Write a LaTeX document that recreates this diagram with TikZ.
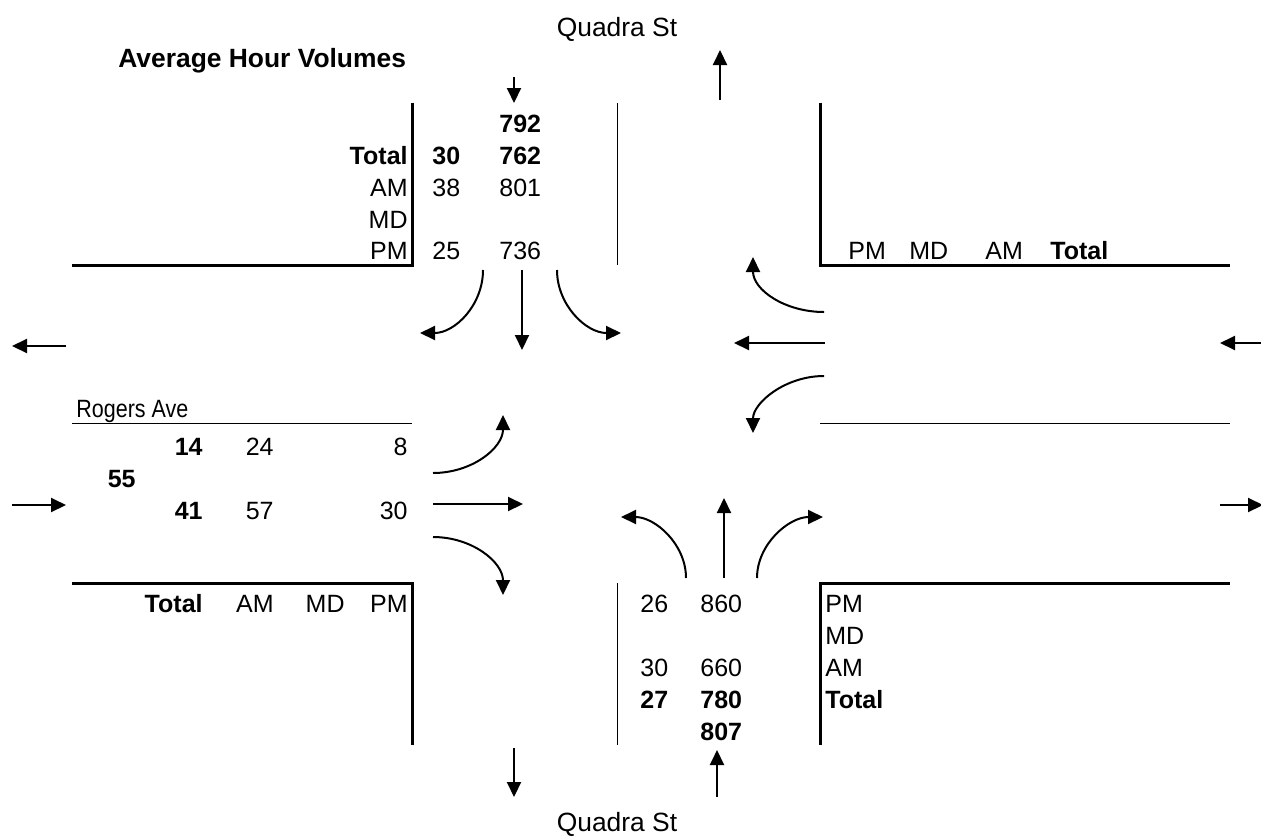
\documentclass[tikz,border=0pt]{standalone}
\usepackage{fontspec}
\setmainfont{Liberation Sans}
\newfontfamily\narrowfont{Liberation Sans}[FakeStretch=0.86]
\usetikzlibrary{arrows.meta}

\begin{document}
\begin{tikzpicture}[
    x=0.5pt, y=-0.5pt,
    font=\fontsize{12.5}{15}\selectfont,
    txt/.style={inner sep=0pt, anchor=base},
    txtl/.style={txt, anchor=base west},
    txtr/.style={txt, anchor=base east},
    bold/.style={font=\fontsize{12.5}{15}\selectfont\bfseries},
    curbline/.style={line width=1.5pt},
    laneline/.style={line width=0.5pt},
    move/.style={-{Triangle[length=7.5pt, width=7pt]}, line width=1pt}
  ]
    \useasboundingbox (0,0) rectangle (1261,835);

    % street names and title
    \node[txt, font=\fontsize{13.2}{16}\selectfont] (north) at (617,36) {Quadra St};
    \node[txt, font=\fontsize{13.2}{16}\selectfont] (south) at (617,831) {Quadra St};
    \node[txtl, font=\narrowfont\fontsize{12.5}{15}\selectfont] (west) at (76,417) {Rogers Ave};
    \node[txtl, font=\fontsize{13.2}{16}\selectfont\bfseries] (title) at (118,67) {Average Hour Volumes};

    % curbs and lane lines
    \draw[curbline] (412,103) -- (412,265) -- (72,265);
    \draw[curbline] (820,103) -- (820,265) -- (1230,265);
    \draw[curbline] (72,583) -- (412,583) -- (412,745);
    \draw[curbline] (820,745) -- (820,583) -- (1230,583);
    \draw[laneline] (617,103) -- (617,265);
    \draw[laneline] (617,583) -- (617,745);
    \draw[laneline] (72,423) -- (412,423);
    \draw[laneline] (820,423) -- (1230,423);

    % north leg (southbound)
    \node[txtl, bold] (nT) at (499,132) {792};
    \node[txtr, bold] (nlTot) at (408,164) {Total};
    \node[txtl, bold] (nLTot) at (432,164) {30};
    \node[txtl, bold] (nTTot) at (499,164) {762};
    \node[txtr] (nlAM) at (408,196) {AM};
    \node[txtl] (nLAM) at (432,196) {38};
    \node[txtl] (nTAM) at (499,196) {801};
    \node[txtr] (nlMD) at (408,228) {MD};
    \node[txtr] (nlPM) at (408,259) {PM};
    \node[txtl] (nLPM) at (432,259) {25};
    \node[txtl] (nTPM) at (499,259) {736};

    % east leg (westbound)
    \node[txtl] (elPM) at (848,259) {PM};
    \node[txtl] (elMD) at (909,259) {MD};
    \node[txtl] (elAM) at (985,259) {AM};
    \node[txtl, bold] (elTot) at (1050,259) {Total};

    % west leg (eastbound)
    \node[txtr, bold] (wLTot) at (203,455) {14};
    \node[txtr] (wLAM) at (274,455) {24};
    \node[txtr] (wLPM) at (408,455) {8};
    \node[txtr, bold] (wT) at (136,487) {55};
    \node[txtr, bold] (wRTot) at (203,519) {41};
    \node[txtr] (wRAM) at (274,519) {57};
    \node[txtr] (wRPM) at (408,519) {30};
    \node[txtr, bold] (wlTot) at (203,612) {Total};
    \node[txtr] (wlAM) at (274,612) {AM};
    \node[txtr] (wlMD) at (345,612) {MD};
    \node[txtr] (wlPM) at (408,612) {PM};

    % south leg (northbound)
    \node[txtl] (sLPM) at (640,612) {26};
    \node[txtl] (sTPM) at (700,612) {860};
    \node[txtl] (slPM) at (825,612) {PM};
    \node[txtl] (slMD) at (825,644) {MD};
    \node[txtl] (sLAM) at (640,676) {30};
    \node[txtl] (sTAM) at (700,676) {660};
    \node[txtl] (slAM) at (825,676) {AM};
    \node[txtl, bold] (sLTot) at (640,708) {27};
    \node[txtl, bold] (sTTot) at (700,708) {780};
    \node[txtl, bold] (slTot) at (825,708) {Total};
    \node[txtl, bold] (sT) at (700,740) {807};

    % approach and departure arrows
    \draw[move] (514,77) -- (514,103);
    \draw[move] (720,100) -- (720,50);
    \draw[move] (66,346) -- (12,346);
    \draw[move] (12,505) -- (66,505);
    \draw[move] (1261,343) -- (1220,343);
    \draw[move] (1220,505) -- (1263,505);
    \draw[move] (514,748) -- (514,797);
    \draw[move] (717,797) -- (717,750);

    % turning movements
    \draw[move] (483,270) .. controls (483,305) and (455,333) .. (420,333);
    \draw[move] (522,270) -- (522,350);
    \draw[move] (557,270) .. controls (557,305) and (586,333) .. (621,333);

    \draw[move] (824,312) .. controls (785,312) and (753,290) .. (753,257);
    \draw[move] (825,343) -- (734,343);
    \draw[move] (824,376) .. controls (785,376) and (753,403) .. (753,433);

    \draw[move] (433,473) .. controls (472,473) and (503,448) .. (503,415);
    \draw[move] (433,504) -- (523,504);
    \draw[move] (433,537) .. controls (472,537) and (503,562) .. (503,595);

    \draw[move] (686,578) .. controls (686,544) and (655,517) .. (621,517);
    \draw[move] (724,578) -- (724,498);
    \draw[move] (757,578) .. controls (757,544) and (789,517) .. (823,517);

  \end{tikzpicture}
\end{document}
